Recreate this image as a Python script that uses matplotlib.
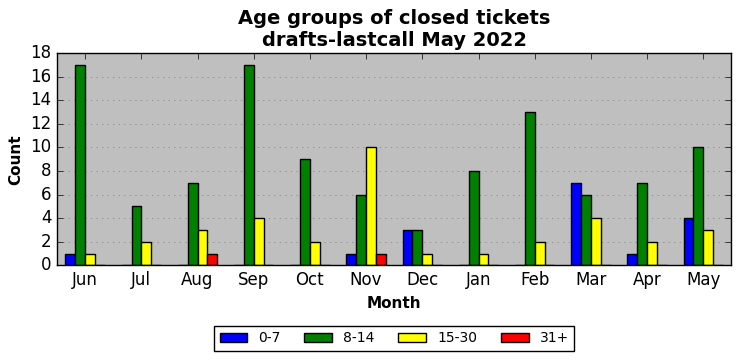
import matplotlib
matplotlib.use("Agg")
import matplotlib.pyplot as plt
import numpy as np

plt.style.use("classic")

months = ["Jun", "Jul", "Aug", "Sep", "Oct", "Nov", "Dec", "Jan", "Feb", "Mar", "Apr", "May"]
labels = ["0-7", "8-14", "15-30", "31+"]
g0_7 = [1, 0, 0, 0, 0, 1, 3, 0, 0, 7, 1, 4]
g8_14 = [17, 5, 7, 17, 9, 6, 3, 8, 13, 6, 7, 10]
g15_30 = [1, 2, 3, 4, 2, 10, 1, 1, 2, 4, 2, 3]
g31 = [0, 0, 1, 0, 0, 1, 0, 0, 0, 0, 0, 0]
colors = ["blue", "green", "yellow", "red"]

fig = plt.figure(figsize=(7.41, 3.61), dpi=100, facecolor="white")
ax = fig.add_axes([0.077, 0.265, 0.910, 0.588])
ax.set_facecolor("#bfbfbf")
x = np.arange(len(months))
w = 0.175
series = [g0_7, g8_14, g15_30, g31]
for i, (s, c, l) in enumerate(zip(series, colors, labels)):
    ax.bar(x + (i - 1.5) * w, s, width=w, color=c, edgecolor="black", label=l, align="center")

ax.set_xlim(-0.5, len(months) - 0.5)
ax.set_ylim(0, 18)
ax.set_yticks(range(0, 19, 2))
ax.set_xticks(x)
ax.set_xticklabels(months)
ax.yaxis.grid(True, linestyle=":", color="gray")
ax.set_axisbelow(True)
ax.set_xlabel("Month", fontweight="bold", fontsize=11)
ax.set_ylabel("Count", fontweight="bold", fontsize=11)
ax.set_title("Age groups of closed tickets\ndrafts-lastcall May 2022", fontweight="bold", fontsize=14)
ax.tick_params(labelsize=12)
ax.legend(loc="upper center", bbox_to_anchor=(0.5, -0.252), ncol=4, fontsize=10,
          frameon=True, columnspacing=1.7)
fig.savefig("out.png", dpi=100, facecolor="white")
